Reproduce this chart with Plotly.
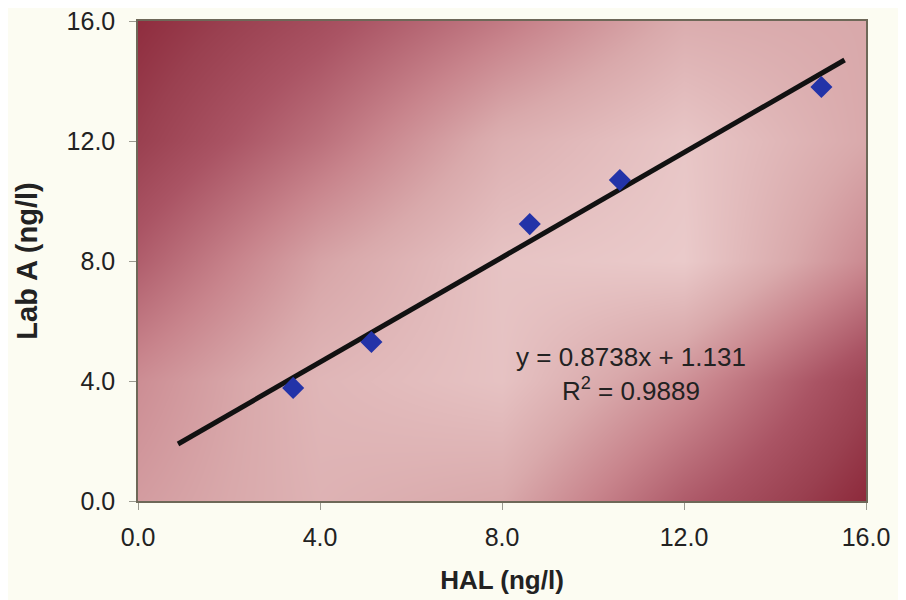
import plotly.graph_objects as go

# Data
hal = [3.41, 5.13, 8.61, 10.59, 15.02]
lab_a = [3.77, 5.30, 9.23, 10.70, 13.80]
slope = 0.8738
intercept = 1.131
r2 = 0.9889
trend_x = [0.88, 15.53]
trend_y = [slope * v + intercept for v in trend_x]
tick_vals = [0, 4, 8, 12, 16]
tick_text = ["0.0", "4.0", "8.0", "12.0", "16.0"]

# Background gradient (decorative), darkness on a coarse grid
bg_x = [0, 4, 8, 12, 16]
bg_y = [0, 4, 8, 12, 16]
bg_z = [
    [0.32, 0.18, 0.25, 0.66, 0.97],   # y = 0
    [0.40, 0.15, 0.06, 0.38, 0.82],   # y = 4
    [0.65, 0.28, 0.05, 0.00, 0.42],   # y = 8
    [0.85, 0.55, 0.20, 0.03, 0.25],   # y = 12
    [0.95, 0.75, 0.50, 0.22, 0.25],   # y = 16
]
bg_scale = [
    [0.0, "#EACACA"],
    [0.25, "#D9A9AB"],
    [0.45, "#C8848C"],
    [0.7, "#AA5464"],
    [0.85, "#9A4050"],
    [1.0, "#8A2436"],
]

FONT = "Liberation Sans, Arial, sans-serif"

fig = go.Figure()
fig.add_trace(go.Heatmap(
    x=bg_x, y=bg_y, z=bg_z, colorscale=bg_scale, zmin=0, zmax=1,
    zsmooth="best", showscale=False, hoverinfo="skip",
))
fig.add_trace(go.Scatter(
    x=trend_x, y=trend_y, mode="lines",
    line=dict(color="#111111", width=5), hoverinfo="skip", showlegend=False,
))
fig.add_trace(go.Scatter(
    x=hal, y=lab_a, mode="markers",
    marker=dict(symbol="diamond", size=17, color="#2333A8",
                line=dict(width=0)),
    showlegend=False,
))

fig.add_annotation(
    x=10.84, y=4.23, xref="x", yref="y",
    text=f"y = {slope}x + {intercept}<br>R<sup>2</sup> = {r2}",
    showarrow=False, align="center",
    font=dict(family=FONT, size=26, color="#222222"),
)

axis_common = dict(
    range=[0, 16], tickvals=tick_vals, ticktext=tick_text,
    showgrid=False, zeroline=False, automargin=False,
    showline=True, linecolor="#6E6858", linewidth=1.5, mirror=True,
    ticks="outside", ticklen=7, tickcolor="#9A9A90", tickwidth=1,
    ticklabeloverflow="allow",
    tickfont=dict(family=FONT, size=25, color="#222222"),
)

# page body adds an 8px offset, so the figure is sized to the visible area
fig.update_layout(
    width=898, height=592,
    margin=dict(l=130, r=40, t=13, b=99),
    paper_bgcolor="#FCFCF2", plot_bgcolor="#D9A9AB",
    showlegend=False,
    xaxis=dict(**axis_common, ticklabelstandoff=6,
               title=dict(text="<b>HAL (ng/l)</b>", standoff=21,
                          font=dict(family=FONT, size=26, color="#222222"))),
    yaxis=dict(**axis_common, ticklabelstandoff=9,
               title=dict(text="<b>Lab A (ng/l)</b>", standoff=20,
                          font=dict(family=FONT, size=29, color="#222222"))),
)

fig.write_html("out.html")
